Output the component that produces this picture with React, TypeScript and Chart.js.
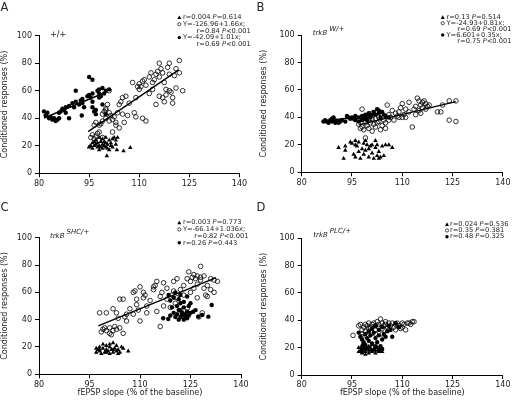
import React, { useEffect, useRef } from "react";
import { Chart, registerables } from "chart.js";

Chart.register(...registerables);

type P = [number, number];

const FONT = "'DejaVu Sans', sans-serif";
const xTicks = [80, 95, 110, 125, 140];
const yTicks = [0, 20, 40, 60, 80, 100];
const yTitle = "Conditioned responses (%)";
const xTitle = "fEPSP slope (% of the baseline)";
const panelLetters = ["A", "B", "C", "D"];

// ---------- Panel A (+/+) ----------
const aTri: P[] = [
  [95, 19], [95.5, 20], [96, 22], [96, 18], [96.5, 23], [97, 21], [97, 24], [97.5, 19], [97.5, 22], [98, 20],
  [98, 26], [98, 17], [98.5, 23], [99, 21], [99, 18], [99, 25], [99.5, 20], [99.5, 23], [100, 19], [100, 22],
  [100, 26], [100.5, 18], [100.5, 21], [101, 24], [101, 17], [101.5, 20], [101.5, 22], [102, 25], [102, 19],
  [102.5, 26], [103, 24], [103, 21], [103.5, 26], [96.5, 20], [98.5, 19], [100.3, 12.6], [103.3, 17],
  [105.3, 16.2], [107.3, 18.6], [95.1, 19.3],
];
const aOpen: P[] = [
  [95.5, 26], [96, 28], [96.5, 25], [97, 27], [97.5, 29], [98, 30], [98, 35], [98.5, 36], [99, 38], [99, 43],
  [99.5, 45], [100, 40], [100, 47], [100.5, 50], [101, 60], [101, 38], [101.5, 42], [102, 39], [102.5, 41],
  [103, 37], [103, 35], [103.5, 44], [104, 50], [104.5, 52], [104, 33], [105, 55], [105, 43], [105.5, 37],
  [106, 56], [106.5, 42], [107, 51], [108, 66], [108.5, 44], [109, 55], [109, 41], [109.5, 63], [110, 61],
  [110, 65], [110.5, 63], [111, 67], [111.5, 68], [111, 40], [112, 64], [112, 38], [113, 70], [113, 58],
  [113.5, 73], [114, 61], [114, 66], [114.5, 68], [115, 72], [115, 50], [115.5, 74], [116, 70], [116, 56],
  [116.5, 76], [116, 80], [117, 73], [117, 55], [117.5, 66], [117.5, 52], [118, 61], [118, 57], [118.5, 77],
  [119, 80], [119, 60], [119.5, 59], [119, 72], [120, 55], [120, 51], [120.5, 71], [121, 76], [121, 62],
  [122, 73], [122, 82], [123, 60], [101, 44], [100, 46], [99, 26], [98, 24], [102, 30], [96.5, 35], [97, 37],
];
const aFilled: P[] = [
  [81.5, 45], [82, 42], [82.5, 44], [83, 40], [83.5, 41], [84, 39], [84.5, 40], [85, 38], [85.5, 39], [86, 40],
  [86, 44], [86.5, 45], [87, 47], [87.5, 46], [88, 48], [88, 44], [89, 49], [89, 40], [90, 51], [90.5, 48],
  [91, 52], [91, 60], [92, 50], [92.5, 53], [93, 54], [93, 51], [93.5, 48], [92.8, 42], [94.5, 56], [95, 57],
  [95, 70], [95.5, 55], [96, 58], [96, 68], [96, 52], [96, 48], [96.5, 45], [97, 46], [97, 43], [97.5, 60],
  [98, 61], [98, 58], [98, 55], [98.5, 56], [99, 62], [99, 50], [99.5, 58], [100, 60], [100, 43], [101, 61],
];
const aOpenFit: P[] = [[94.7, 30.3], [121.8, 75.2]];
const aFilledFit: P[] = [[81.5, 40.2], [100, 58.9]];
const aGenotype = ["+/+", ""];
const aLegend: [string, string][] = [
  ["tri", "r=0.004 *P*=0.614"],
  ["open", "Y=-126.96+1.66x;"],
  ["", "r=0.84 *P*<0.001"],
  ["filled", "Y=-42.09+1.01x;"],
  ["", "r=0.69 *P*<0.001"],
];

// ---------- Panel B (trkB W/+) ----------
const bTri: P[] = [
  [91, 18], [92.5, 10], [93, 16], [93, 19], [94.5, 22], [95, 21], [95.5, 13], [96, 20], [96, 11], [96.5, 19],
  [97, 22], [97.5, 10], [98, 17], [98.5, 21], [98.5, 13], [99, 23], [99, 16], [99.5, 20], [100, 11], [100.5, 19],
  [101, 20], [101, 14], [101.5, 10], [102, 18], [102, 23], [102.5, 12], [102.5, 20], [103, 15], [103, 10],
  [103.5, 11], [104, 19], [104.5, 12], [105, 20], [106, 20], [107, 18], [96, 23], [97, 15], [100, 17],
];
const bOpen: P[] = [
  [97, 35], [97.5, 32], [98, 33], [98, 46], [98.5, 31], [99, 36], [99, 25], [99.5, 34], [100, 38], [100, 32],
  [100.5, 36], [101, 30], [101.5, 35], [102, 33], [102, 39], [102.5, 36], [103, 37], [103, 40], [103.5, 31],
  [104, 34], [104.5, 38], [105, 32], [105, 36], [105.5, 49], [106, 42], [106, 38], [106.5, 40], [107, 45],
  [107.5, 38], [108, 43], [108.5, 41], [109, 44], [109, 40], [109.5, 47], [110, 50], [110, 40], [110.5, 42],
  [111, 46], [111, 40], [112, 51], [112, 44], [113, 33], [113.5, 46], [114, 48], [114, 42], [114.5, 54],
  [115, 52], [115, 45], [115.5, 49], [115.5, 43], [116, 51], [116, 47], [116.5, 52], [117, 50], [117, 46],
  [117.5, 48], [118, 49], [120.5, 44], [121.5, 44], [122, 49], [124, 52], [124, 38], [126, 37], [126, 52],
  [100, 42], [101, 43], [99, 41], [101, 39],
];
const bFilled: P[] = [
  [86.5, 37], [87, 38], [87.5, 37], [88, 36], [88.5, 38], [89, 39], [89, 37], [89.5, 40], [90, 38], [90, 36],
  [90.5, 37], [91, 36], [91.5, 37], [92, 38], [93, 37], [93.5, 41], [94, 40], [94.5, 39], [95, 40], [95.5, 39],
  [96, 38], [96, 41], [96.5, 40], [97, 37], [97.5, 40], [98, 41], [98, 38], [98.5, 39], [99, 42], [99, 40],
  [99.5, 38], [100, 41], [100, 43], [100.5, 40], [101, 42], [101.5, 44], [102, 42], [102.5, 46], [103, 45],
  [103, 43], [103.5, 40], [104, 44], [104.5, 42], [105, 41], [106, 40],
];
const bOpenFit: P[] = [[97, 34.5], [126, 51.5]];
const bFilledFit: P[] = [[86.7, 37.2], [101, 42]];
const bGenotype = ["trkB", "W/+"];
const bLegend: [string, string][] = [
  ["tri", "r=0.13 *P*=0.514"],
  ["open", "Y=-24.93+0.81x;"],
  ["", "r=0.69 *P*<0.001"],
  ["filled", "Y=6.601+0.35x;"],
  ["", "r=0.75 *P*<0.001"],
];

// ---------- Panel C (trkB SHC/+) ----------
const cTri: P[] = [
  [97, 16], [97, 19], [97.5, 18], [98, 20], [98, 17], [98.5, 15], [99, 19], [99, 22], [99.5, 16], [100, 18],
  [100, 21], [100.5, 17], [101, 15], [101, 20], [101.5, 18], [102, 23], [102, 16], [102.5, 19], [103, 17],
  [103, 21], [103.5, 18], [104, 16], [104.5, 20], [105, 19], [106.5, 17], [98, 18], [100, 16], [101, 22],
  [102, 18], [103.5, 15],
];
const cOpen: P[] = [
  [98, 45], [98.5, 31], [99, 33], [99.5, 34], [100, 32], [100, 45], [101, 30], [101, 34], [101.5, 29], [102, 32],
  [102, 48], [102.5, 35], [103, 33], [103, 45], [103.5, 41], [104, 34], [104, 55], [105, 55], [105, 30],
  [105.5, 42], [106, 39], [106, 44], [107, 48], [108, 44], [108, 60], [108.5, 61], [109, 55], [109, 51],
  [109.5, 47], [110, 39], [110, 64], [111, 60], [111, 56], [111.5, 58], [112, 45], [112, 50], [113, 54],
  [114, 62], [114, 64], [114.5, 65], [115, 68], [115, 46], [116, 57], [116, 35], [116.5, 60], [117, 67],
  [117, 50], [118, 63], [118, 55], [119, 49], [119.5, 58], [120, 61], [120, 68], [120.5, 52], [121, 70],
  [121, 56], [122, 62], [122.5, 45], [123, 58], [123, 65], [124, 70], [124, 48], [124.5, 75], [125, 68],
  [125, 60], [125.5, 71], [126, 63], [126, 73], [126.5, 70], [127, 56], [127, 72], [127.5, 42], [128, 79],
  [128, 69], [128.5, 45], [129, 63], [129, 72], [129.5, 58], [130, 65], [130, 57], [131, 70], [131, 62],
  [132, 60], [132, 69], [133, 68], [127, 66], [128, 71],
];
const cFilled: P[] = [
  [118.5, 58], [119, 54], [119.5, 49], [120, 45], [120, 56], [120.5, 60], [121, 44], [121, 50], [121.5, 55],
  [121.5, 47], [122, 42], [122, 47], [122, 52], [122.5, 45], [122.5, 43], [123, 40], [123, 49], [123, 53],
  [123.5, 44], [123.5, 42], [124, 46], [124, 41], [124, 57], [124.5, 50], [124.5, 43], [125, 45], [125, 52],
  [120.5, 42], [121.5, 40], [122, 58], [119, 43], [131.3, 50.7], [130.3, 42.2], [127.3, 42.2], [125.8, 45.8],
  [118.4, 40.5], [116.9, 41], [128.5, 43.5], [126.5, 47],
];
const cOpenFit: P[] = [[97.6, 35.4], [132.6, 70.7]];
const cGenotype = ["trkB", "SHC/+"];
const cLegend: [string, string][] = [
  ["tri", "r=0.003 *P*=0.773"],
  ["open", "Y=-66.14+1.036x;"],
  ["", "r=0.82 *P*<0.001"],
  ["filled", "r=0.26 *P*=0.443"],
];

// ---------- Panel D (trkB PLC/+) ----------
const dTri: P[] = [
  [97, 17], [97, 20], [97.5, 18], [98, 16], [98, 19], [98.5, 21], [99, 17], [99, 15], [99.5, 19], [100, 16],
  [100, 18], [100.5, 20], [101, 17], [101, 22], [101.5, 19], [102, 16], [102, 18], [102.5, 20], [103, 17],
  [103, 19], [103.5, 18], [104, 17], [98, 22], [100, 21],
];
const dOpen: P[] = [
  [95.3, 29], [97, 36], [97.5, 37], [98, 33], [98, 30], [98.5, 35], [99, 37], [99, 32], [99.5, 36], [100, 38],
  [100, 34], [100.5, 35], [101, 37], [101, 31], [101.5, 38], [102, 36], [102, 33], [102.5, 39], [103, 37],
  [103, 35], [103.5, 41], [104, 38], [104, 34], [104.5, 36], [105, 37], [105, 39], [105.5, 35], [106, 38],
  [106, 33], [106.5, 36], [107, 38], [107.5, 35], [108, 37], [108, 33], [108.5, 38], [109, 36], [109.5, 34],
  [110, 38], [110, 35], [110.5, 37], [111, 33], [111.5, 38], [112, 38], [112.5, 37], [113, 39], [113.5, 39],
  [100, 29], [102, 30], [104, 30], [98, 28],
];
const dFilled: P[] = [
  [97, 31], [97.5, 28], [98, 20], [98, 26], [98.5, 24], [99, 30], [99, 22], [99.5, 27], [100, 25], [100, 32],
  [100.5, 29], [101, 23], [101, 34], [101.5, 31], [102, 27], [102, 36], [102.5, 24], [103, 29], [103, 33],
  [103.5, 21], [104, 26], [104, 35], [104.5, 30], [105, 28], [105.5, 32], [106, 36], [106.5, 33], [107, 28],
  [108, 38], [109, 35], [100, 20], [102, 21], [101, 18], [99, 19], [98, 17], [103, 18], [104, 19],
];
const dGenotype = ["trkB", "PLC/+"];
const dLegend: [string, string][] = [
  ["tri", "r=0.024 *P*=0.536"],
  ["open", "r=0.35 *P*=0.381"],
  ["filled", "r=0.48 *P*=0.325"],
];

// ---------- layout (pixel geometry of each panel) ----------
type Panel = {
  letter: string;
  tri: P[]; open: P[]; filled: P[]; fits: P[][];
  genotype: string[]; legend: [string, string][];
  box: { left: number; top: number; w: number; h: number };
  area: { l: number; r: number; t: number; b: number };
  xTitle: boolean; padB: number; yTitlePad: number;
  geno: { x: number; y: number };
  leg: { mx: number; tx: number; rx: number; y0: number; dy: number };
};

const panels: Panel[] = [
  {
    letter: panelLetters[0], tri: aTri, open: aOpen, filled: aFilled, fits: [aOpenFit, aFilledFit],
    genotype: aGenotype, legend: aLegend,
    box: { left: 0, top: 0, w: 256, h: 200 }, area: { l: 39, r: 239.5, t: 35.7, b: 173.3 },
    xTitle: false, padB: 0, yTitlePad: 0, geno: { x: 50, y: 37 },
    leg: { mx: 179.3, tx: 183, rx: 250.7, y0: 17.5, dy: 6.7 },
  },
  {
    letter: panelLetters[1], tri: bTri, open: bOpen, filled: bFilled, fits: [bOpenFit, bFilledFit],
    genotype: bGenotype, legend: bLegend,
    box: { left: 256, top: 0, w: 256, h: 200 }, area: { l: 45.7, r: 250, t: 35, b: 172.3 },
    xTitle: false, padB: 0, yTitlePad: 3, geno: { x: 56.7, y: 34.5 },
    leg: { mx: 186.7, tx: 190.5, rx: 255.5, y0: 17.3, dy: 5.9 },
  },
  {
    letter: panelLetters[2], tri: cTri, open: cOpen, filled: cFilled, fits: [cOpenFit],
    genotype: cGenotype, legend: cLegend,
    box: { left: 0, top: 200, w: 256, h: 203 }, area: { l: 39, r: 241, t: 37.7, b: 174.3 },
    xTitle: true, padB: 5.5, yTitlePad: 0, geno: { x: 50, y: 37.7 },
    leg: { mx: 179.3, tx: 183, rx: 248.5, y0: 22.7, dy: 6.7 },
  },
  {
    letter: panelLetters[3], tri: dTri, open: dOpen, filled: dFilled, fits: [],
    genotype: dGenotype, legend: dLegend,
    box: { left: 256, top: 200, w: 256, h: 203 }, area: { l: 45.7, r: 249.3, t: 38.3, b: 175 },
    xTitle: true, padB: 5, yTitlePad: 3, geno: { x: 57.3, y: 36.7 },
    leg: { mx: 191, tx: 194, rx: 255.5, y0: 24.3, dy: 6.2 },
  },
];

function drawMarker(ctx: CanvasRenderingContext2D, kind: string, x: number, y: number) {
  ctx.save();
  ctx.fillStyle = "#000";
  ctx.strokeStyle = "#000";
  ctx.lineWidth = 0.7;
  if (kind === "tri") {
    ctx.beginPath();
    ctx.moveTo(x, y - 2);
    ctx.lineTo(x + 2, y + 1.6);
    ctx.lineTo(x - 2, y + 1.6);
    ctx.closePath();
    ctx.fill();
  } else if (kind === "open") {
    ctx.beginPath();
    ctx.arc(x, y, 1.6, 0, Math.PI * 2);
    ctx.stroke();
  } else if (kind === "filled") {
    ctx.beginPath();
    ctx.arc(x, y, 1.7, 0, Math.PI * 2);
    ctx.fill();
  }
  ctx.restore();
}

function drawRich(ctx: CanvasRenderingContext2D, text: string, x: number, y: number, size: number, align: "left" | "right") {
  const parts = text.split("*");
  const fonts = parts.map((_, i) => `${i % 2 === 1 ? "italic " : ""}${size}px ${FONT}`);
  const widths = parts.map((p, i) => {
    ctx.font = fonts[i];
    return ctx.measureText(p).width;
  });
  const total = widths.reduce((s, w) => s + w, 0);
  let cx = align === "right" ? x - total : x;
  ctx.textAlign = "left";
  parts.forEach((p, i) => {
    ctx.font = fonts[i];
    ctx.fillText(p, cx, y);
    cx += widths[i];
  });
}

function makeAnnotationPlugin(p: Panel) {
  return {
    id: "annot" + p.letter,
    afterDraw(chart: any) {
      const ctx: CanvasRenderingContext2D = chart.ctx;
      ctx.save();
      ctx.fillStyle = "#222";
      ctx.font = `11.5px ${FONT}`;
      ctx.textBaseline = "alphabetic";
      ctx.textAlign = "left";
      ctx.fillText(p.letter, 0.5, 10.5);
      if (p.genotype[1]) {
        ctx.font = `italic 7px ${FONT}`;
        ctx.fillText(p.genotype[0], p.geno.x, p.geno.y);
        const w = ctx.measureText(p.genotype[0]).width;
        ctx.fillText(p.genotype[1], p.geno.x + w + 2, p.geno.y - 4);
      } else {
        ctx.font = `8px ${FONT}`;
        ctx.fillText(p.genotype[0], p.geno.x, p.geno.y);
      }
      ctx.textBaseline = "middle";
      p.legend.forEach(([kind, text], i) => {
        const y = p.leg.y0 + i * p.leg.dy;
        if (kind) {
          drawMarker(ctx, kind, p.leg.mx, y);
          drawRich(ctx, text, p.leg.tx, y, 6.7, "left");
        } else {
          drawRich(ctx, text, p.leg.rx, y, 6.7, "right");
        }
      });
      ctx.restore();
    },
  };
}

const toXY = (arr: P[]) => arr.map(([x, y]) => ({ x, y }));

function makeConfig(p: Panel): any {
  const tickFont = { family: FONT, size: 8 };
  const datasets: any[] = [
    ...p.fits.map((f) => ({
      data: toXY(f), showLine: true, borderColor: "#000", borderWidth: 1.4, pointRadius: 0, fill: false,
    })),
    {
      data: toXY(p.tri), pointStyle: "triangle", pointRadius: 2.6,
      backgroundColor: "#000", borderColor: "#000", borderWidth: 0,
    },
    {
      data: toXY(p.open), pointStyle: "circle", pointRadius: 2.3,
      backgroundColor: "rgba(255,255,255,0)", borderColor: "#000", borderWidth: 0.8,
    },
    {
      data: toXY(p.filled), pointStyle: "circle", pointRadius: 2.2,
      backgroundColor: "#000", borderColor: "#000", borderWidth: 0,
    },
  ];
  const axisH = p.box.h - p.padB - p.area.b;
  return {
    type: "scatter",
    data: { datasets },
    options: {
      animation: false,
      responsive: false,
      devicePixelRatio: 1,
      layout: { padding: { left: 0, top: p.area.t, right: p.box.w - p.area.r, bottom: p.padB } },
      plugins: { legend: { display: false }, tooltip: { enabled: false } },
      scales: {
        x: {
          type: "linear", position: "bottom", min: 80, max: 140,
          afterBuildTicks: (s: any) => { s.ticks = xTicks.map((v) => ({ value: v })); },
          afterFit: (s: any) => { s.height = axisH; },
          grid: { drawOnChartArea: false, drawTicks: true, tickLength: 4, color: "#000", lineWidth: 1 },
          border: { display: true, color: "#000", width: 1 },
          ticks: { font: tickFont, color: "#222", padding: 1.5, maxRotation: 0, autoSkip: false },
          title: { display: p.xTitle, text: xTitle, font: tickFont, color: "#222", padding: { top: 0, bottom: 0 } },
        },
        y: {
          type: "linear", position: "left", min: 0, max: 100,
          afterBuildTicks: (s: any) => { s.ticks = yTicks.map((v) => ({ value: v })); },
          afterFit: (s: any) => { s.width = p.area.l; },
          grid: { drawOnChartArea: false, drawTicks: true, tickLength: 4, color: "#000", lineWidth: 1 },
          border: { display: true, color: "#000", width: 1 },
          ticks: { font: tickFont, color: "#222", padding: 3, autoSkip: false },
          title: { display: true, text: yTitle, font: tickFont, color: "#222", padding: { top: p.yTitlePad, bottom: 0 } },
        },
      },
    },
    plugins: [makeAnnotationPlugin(p)],
  };
}

export default function App() {
  const refs = useRef<(HTMLCanvasElement | null)[]>([]);
  useEffect(() => {
    const charts = panels.map((p, i) => {
      const c = refs.current[i]!;
      return new Chart(c, makeConfig(p));
    });
    return () => charts.forEach((ch) => ch.destroy());
  }, []);
  return (
    <div style={{ position: "absolute", left: 0, top: 0, width: 512, height: 403, background: "#fff", overflow: "hidden" }}>
      {panels.map((p, i) => (
        <canvas
          key={p.letter}
          ref={(el) => { refs.current[i] = el; }}
          width={p.box.w}
          height={p.box.h}
          style={{ position: "absolute", left: p.box.left, top: p.box.top, width: p.box.w, height: p.box.h }}
        />
      ))}
    </div>
  );
}
